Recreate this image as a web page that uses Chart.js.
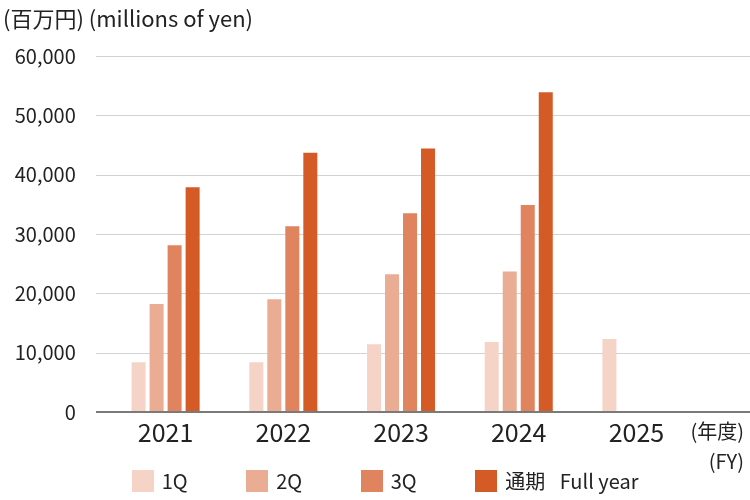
<!DOCTYPE html>
<html><head><meta charset="utf-8">
<script src="https://cdn.jsdelivr.net/npm/chart.js@4.4.1/dist/chart.umd.min.js"></script>
<style>
html,body{margin:0;padding:0;background:#fff;}
#wrap{position:relative;width:750px;height:500px;font-family:'Noto Sans CJK JP','Noto Sans',sans-serif;color:#222;}
canvas{position:absolute;left:0;top:0;}
.txt{position:absolute;white-space:nowrap;line-height:1;}
#legend{position:absolute;left:131.7px;top:470px;height:22px;display:flex;}
.item{display:flex;align-items:center;height:22px;}
.box{width:22px;height:22px;margin-right:8px;flex:none;}
.lab{font-size:20px;line-height:22px;white-space:pre;}
</style></head>
<body><div id="wrap">
<canvas id="c" width="750" height="500"></canvas>
<div class="txt" style="left:3px;top:6px;font-size:22px;">(百万円) (millions of yen)</div>
<div class="txt" style="right:6px;top:421px;font-size:20px;">(年度)</div>
<div class="txt" style="right:6px;top:451px;font-size:20px;">(FY)</div>
<div id="legend"></div>
</div>
<script>
const categories = ['2021', '2022', '2023', '2024', '2025'];
const q1 = [8400, 8400, 11400, 11800, 12300];
const q2 = [18200, 19000, 23200, 23700, null];
const q3 = [28100, 31300, 33500, 34900, null];
const fullYear = [37900, 43700, 44400, 53900, null];
const seriesLabels = ['1Q', '2Q', '3Q', '通期 \u2002Full year'];
const seriesColors = ['#F5D4C7', '#EAAD94', '#E0835F', '#D45A26'];

const FONT = "'Noto Sans CJK JP','Noto Sans',sans-serif";
const GRID_LEFT = 96;

const gridPlugin = {
  id: 'extGrid',
  beforeDatasetsDraw(chart) {
    const y = chart.scales.y, ctx = chart.ctx;
    ctx.save();
    ctx.strokeStyle = '#d2d2d2';
    ctx.lineWidth = 1;
    y.ticks.forEach(t => {
      if (t.value === 0) return;
      const py = Math.round(y.getPixelForValue(t.value)) + 0.5;
      ctx.beginPath(); ctx.moveTo(GRID_LEFT, py); ctx.lineTo(chart.width, py); ctx.stroke();
    });
    ctx.restore();
  },
  afterDatasetsDraw(chart) {
    const y = chart.scales.y, ctx = chart.ctx;
    const py = y.getPixelForValue(0);
    ctx.save();
    ctx.strokeStyle = '#7a7a7a';
    ctx.lineWidth = 2;
    ctx.beginPath(); ctx.moveTo(GRID_LEFT, py); ctx.lineTo(chart.width, py); ctx.stroke();
    ctx.restore();
  }
};

const seriesData = [q1, q2, q3, fullYear];
const chart = new Chart(document.getElementById('c'), {
  type: 'bar',
  data: {
    labels: categories,
    datasets: seriesData.map((d, i) => ({
      label: seriesLabels[i],
      data: d,
      backgroundColor: seriesColors[i],
      borderWidth: 0,
      categoryPercentage: 0.612,
      barPercentage: 0.778
    }))
  },
  options: {
    responsive: false,
    animation: false,
    layout: { padding: { left: 14, right: 54.7, top: 56, bottom: 48 } },
    plugins: { legend: { display: false }, tooltip: { enabled: false }, title: { display: false } },
    scales: {
      x: {
        grid: { display: false, drawTicks: false },
        border: { display: false },
        ticks: { font: { family: FONT, size: 25 }, color: '#222', padding: 5 },
        afterFit(s) { s.height = 40; }
      },
      y: {
        min: 0, max: 60000,
        grid: { display: false, drawTicks: false },
        border: { display: false },
        ticks: {
          stepSize: 10000,
          font: { family: FONT, size: 20 }, color: '#222', padding: 31,
          callback: v => v.toLocaleString('en-US')
        },
        afterFit(s) { s.width = 92.75; }
      }
    }
  },
  plugins: [gridPlugin]
});

const legend = document.getElementById('legend');
chart.data.datasets.forEach((ds, i) => {
  const item = document.createElement('div');
  item.className = 'item';
  if (i < chart.data.datasets.length - 1) item.style.width = '114.5px';
  const box = document.createElement('div');
  box.className = 'box';
  box.style.background = ds.backgroundColor;
  const lab = document.createElement('span');
  lab.className = 'lab';
  lab.textContent = ds.label;
  item.appendChild(box); item.appendChild(lab);
  legend.appendChild(item);
});
</script>
</body></html>
